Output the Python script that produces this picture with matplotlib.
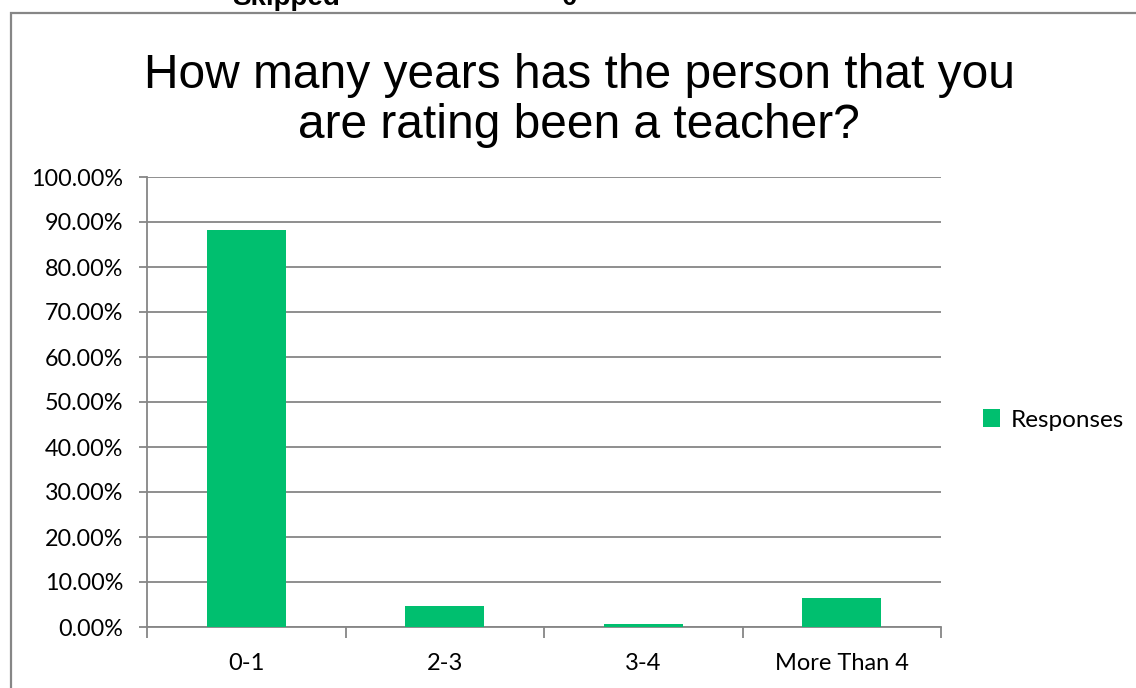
import matplotlib
matplotlib.use("Agg")
import matplotlib.pyplot as plt
from matplotlib.patches import Rectangle
from matplotlib.ticker import FuncFormatter

categories = ["0-1", "2-3", "3-4", "More Than 4"]
responses = [0.8824, 0.0471, 0.0059, 0.0647]
series_name = "Responses"
title_lines = ["How many years has the person that you", "are rating been a teacher?"]

W, H = 1136, 688
fig = plt.figure(figsize=(W / 100, H / 100), dpi=100)

# outer chart frame (cropped)
fig.patches.append(Rectangle((11 / W, -0.1), 1.2, 1 - 13 / H + 0.1, transform=fig.transFigure,
                             fill=False, edgecolor="#868686", linewidth=1.6, zorder=0))
# cropped text above the chart
fig.text(232 / W, 1 - 5 / H, "Skipped", fontsize=20, fontweight="bold",
         family="Liberation Sans", va="baseline", ha="left", color="#000000")
fig.text(562 / W, 1 - 5 / H, "0", fontsize=20, fontweight="bold",
         family="Liberation Sans", va="baseline", ha="left", color="#000000")

ax = fig.add_axes([147 / W, 1 - 627 / H, (941 - 147) / W, (627 - 177) / H])
x = list(range(len(categories)))
ax.bar(x, responses, width=0.4, color="#00BF6F", label=series_name, zorder=3)
ax.set_xlim(-0.5, len(categories) - 0.5)
ax.set_ylim(0, 1.0)
ax.set_yticks([i / 10 for i in range(11)])
ax.yaxis.set_major_formatter(FuncFormatter(lambda v, p: f"{v*100:.2f}%"))
ax.grid(axis="y", color="#868686", linewidth=1.3, zorder=0)
for s in ["top", "right"]:
    ax.spines[s].set_visible(False)
for s in ["left", "bottom"]:
    ax.spines[s].set_color("#868686")
    ax.spines[s].set_linewidth(1.3)
ax.set_xticks(x)
ax.set_xticklabels(categories)
ax.set_xticks([i - 0.5 for i in range(len(categories) + 1)], minor=True)
ax.tick_params(axis="x", which="major", length=0, pad=19, labelsize=17)
ax.tick_params(axis="x", which="minor", length=8, width=1.3, color="#868686")
ax.tick_params(axis="y", length=6, width=1.3, color="#868686", labelsize=16.8, pad=11)
for lab in ax.get_xticklabels() + ax.get_yticklabels():
    lab.set_family("Lato")

fig.text(579 / W, 1 - 88 / H, title_lines[0], fontsize=34.5, family="Liberation Sans",
         ha="center", va="baseline")
fig.text(579 / W, 1 - 138 / H, title_lines[1], fontsize=34.5, family="Liberation Sans",
         ha="center", va="baseline")

leg = fig.legend(loc="center left", bbox_to_anchor=(983 / W, 1 - 420 / H), frameon=False,
                 prop={"family": "Lato", "size": 17.5}, handlelength=0.7, handleheight=0.7,
                 handletextpad=0.45, borderaxespad=0, borderpad=0)

fig.savefig("out.png", dpi=100)
